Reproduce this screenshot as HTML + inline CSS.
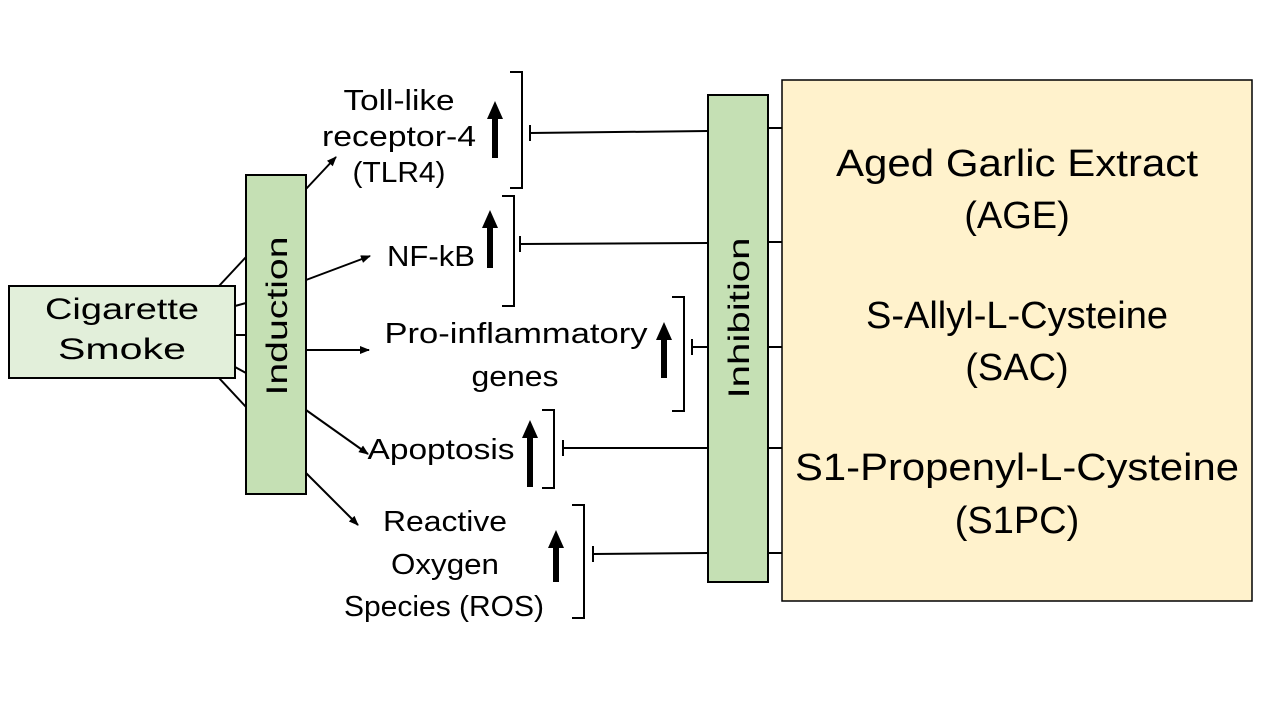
<!DOCTYPE html>
<html><head><meta charset="utf-8"><style>
body{margin:0;background:#fff;}
svg{display:block;}
.c{font-family:"Liberation Sans",sans-serif;}
</style></head><body>
<svg width="1262" height="708" viewBox="0 0 1262 708" xmlns="http://www.w3.org/2000/svg">
<defs>
<marker id="a" markerWidth="10" markerHeight="8" refX="9" refY="4" orient="auto" markerUnits="userSpaceOnUse">
<path d="M0,0 L10,4 L0,8 Z" fill="#000"/></marker>
</defs>
<g stroke="#000" stroke-width="2" fill="none">
<line x1="219" y1="286" x2="246" y2="257"/>
<line x1="235" y1="306" x2="246" y2="303"/>
<line x1="235" y1="335" x2="246" y2="335"/>
<line x1="235" y1="367" x2="246" y2="373"/>
<line x1="219" y1="378" x2="246" y2="407"/>
<line x1="306" y1="189" x2="336" y2="157" marker-end="url(#a)"/>
<line x1="306" y1="280" x2="370" y2="256" marker-end="url(#a)"/>
<line x1="306" y1="350" x2="369" y2="350" marker-end="url(#a)"/>
<line x1="306" y1="410" x2="368" y2="454" marker-end="url(#a)"/>
<line x1="306" y1="473" x2="358" y2="525" marker-end="url(#a)"/>
<line x1="708" y1="131" x2="530" y2="133"/><line x1="530" y1="125" x2="530" y2="141"/>
<path d="M510,72 H522 V188 H510"/>
<line x1="708" y1="243" x2="520" y2="244"/><line x1="520" y1="236" x2="520" y2="252"/>
<path d="M502,196 H514 V306 H502"/>
<line x1="708" y1="347" x2="692" y2="347"/><line x1="692" y1="339" x2="692" y2="355"/>
<path d="M672,297 H684 V411 H672"/>
<line x1="708" y1="448" x2="563" y2="448"/><line x1="563" y1="440" x2="563" y2="456"/>
<path d="M542,410 H554 V488 H542"/>
<line x1="708" y1="553" x2="593" y2="554"/><line x1="593" y1="546" x2="593" y2="562"/>
<path d="M572,505 H584 V618 H572"/>
<line x1="768" y1="128" x2="782" y2="128"/>
<line x1="768" y1="242" x2="782" y2="242"/>
<line x1="768" y1="347" x2="782" y2="347"/>
<line x1="768" y1="448" x2="782" y2="448"/>
<line x1="768" y1="553" x2="782" y2="553"/>
</g>
<g fill="#000">
<path d="M492,158 V119 H487 L495,101 L503,119 H498 V158Z"/>
<path d="M487,268 V228 H482 L490,210 L498,228 H493 V268Z"/>
<path d="M661,378 V340 H656 L664,322 L672,340 H667 V378Z"/>
<path d="M527,487 V438 H522 L530,420 L538,438 H533 V487Z"/>
<path d="M553,582 V548 H548 L556,530 L564,548 H559 V582Z"/>
</g>
<rect x="9" y="286" width="226" height="92" fill="#e2efda" stroke="#000" stroke-width="2"/>
<rect x="246" y="175" width="60" height="319" fill="#c5e0b4" stroke="#000" stroke-width="2"/>
<rect x="708" y="95" width="60" height="487" fill="#c5e0b4" stroke="#000" stroke-width="2"/>
<rect x="782" y="80" width="470" height="521" fill="#fff2cc" stroke="#000" stroke-width="1.5"/>
<g class="c" font-size="30" text-anchor="middle" fill="#000">
<text x="122" y="319" textLength="154" lengthAdjust="spacingAndGlyphs">Cigarette</text>
<text x="122" y="359" textLength="128" lengthAdjust="spacingAndGlyphs">Smoke</text>
<text transform="translate(287,316) rotate(-90)" textLength="159" lengthAdjust="spacingAndGlyphs">Induction</text>
<text transform="translate(749,318) rotate(-90)" textLength="161" lengthAdjust="spacingAndGlyphs">Inhibition</text>
<g font-size="29">
<text x="399" y="110" textLength="111" lengthAdjust="spacingAndGlyphs">Toll-like</text>
<text x="399" y="146" textLength="154" lengthAdjust="spacingAndGlyphs">receptor-4</text>
<text x="399" y="182" textLength="93" lengthAdjust="spacingAndGlyphs">(TLR4)</text>
<text x="431" y="266" textLength="88" lengthAdjust="spacingAndGlyphs">NF-kB</text>
<text x="516" y="343" textLength="263" lengthAdjust="spacingAndGlyphs">Pro-inflammatory</text>
<text x="515" y="386" textLength="87" lengthAdjust="spacingAndGlyphs">genes</text>
<text x="441" y="459" textLength="147" lengthAdjust="spacingAndGlyphs">Apoptosis</text>
<text x="445" y="531" textLength="124" lengthAdjust="spacingAndGlyphs">Reactive</text>
<text x="445" y="574" textLength="108" lengthAdjust="spacingAndGlyphs">Oxygen</text>
<text x="444" y="616" textLength="200" lengthAdjust="spacingAndGlyphs">Species (ROS)</text>
</g>
<g font-size="38">
<text x="1017" y="176" textLength="362" lengthAdjust="spacingAndGlyphs">Aged Garlic Extract</text>
<text x="1017" y="228">(AGE)</text>
<text x="1017" y="328">S-Allyl-L-Cysteine</text>
<text x="1017" y="380">(SAC)</text>
<text x="1017" y="480" textLength="444" lengthAdjust="spacingAndGlyphs">S1-Propenyl-L-Cysteine</text>
<text x="1017" y="533">(S1PC)</text>
</g>
</g>
</svg>
</body></html>
